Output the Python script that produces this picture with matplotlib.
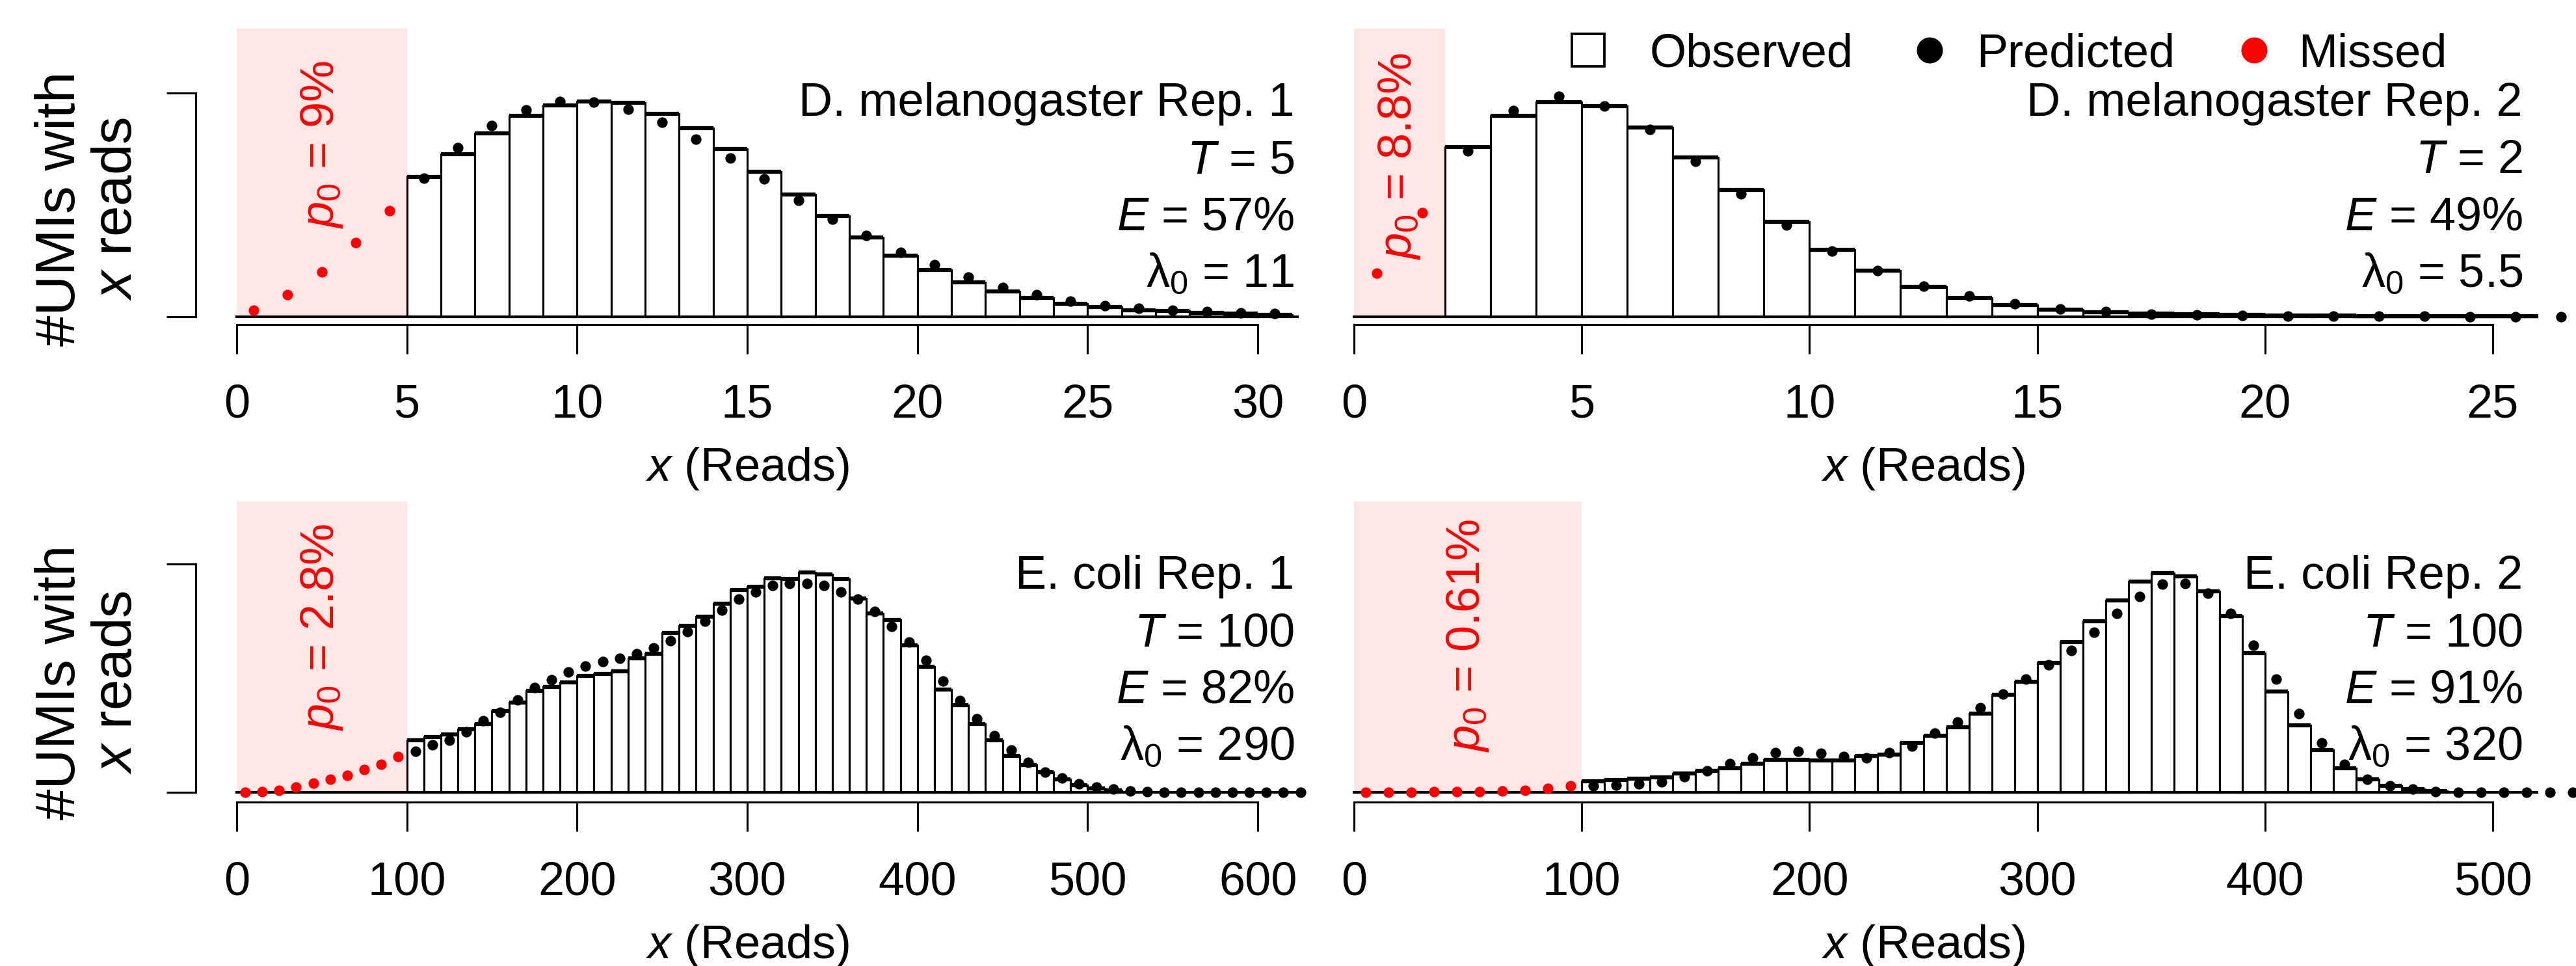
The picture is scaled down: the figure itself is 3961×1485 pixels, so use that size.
import numpy as np
import matplotlib
matplotlib.use("Agg")
import matplotlib.pyplot as plt
from matplotlib.patches import Rectangle
from matplotlib.lines import Line2D

plt.rcParams['font.family'] = ['Liberation Sans', 'DejaVu Sans']
plt.rcParams['mathtext.fontset'] = 'custom'
plt.rcParams['mathtext.rm'] = 'Liberation Sans'
plt.rcParams['mathtext.it'] = 'Liberation Sans:italic'

# --- data (heights relative to the upper y tick) ---
# D. melanogaster Rep. 1
dm1_bins = np.arange(5, 31)
dm1_obs = [0.625, 0.725, 0.819, 0.897, 0.943, 0.961, 0.955, 0.906, 0.843, 0.749,
           0.646, 0.545, 0.450, 0.354, 0.271, 0.208, 0.153, 0.112, 0.083, 0.058,
           0.042, 0.029, 0.024, 0.017, 0.013, 0.008]
dm1_pred_x = np.arange(5.5, 31)
dm1_pred = [0.618, 0.754, 0.855, 0.923, 0.962, 0.959, 0.926, 0.867, 0.792, 0.708,
            0.615, 0.520, 0.436, 0.362, 0.288, 0.231, 0.176, 0.131, 0.097, 0.068,
            0.049, 0.037, 0.029, 0.022, 0.017, 0.013]
dm1_miss_x = [0.5, 1.5, 2.5, 3.5, 4.5]
dm1_miss = [0.029, 0.097, 0.199, 0.330, 0.473]

# D. melanogaster Rep. 2
dm2_bins = np.arange(2, 26)
dm2_obs = [0.758, 0.897, 0.959, 0.942, 0.845, 0.712, 0.565, 0.424, 0.299, 0.206,
           0.134, 0.083, 0.051, 0.031, 0.019, 0.013, 0.010, 0.007, 0.005, 0.004,
           0.003, 0.002, 0.001, 0.001]
dm2_pred_x = np.arange(2.5, 27)
dm2_pred = [0.740, 0.921, 0.984, 0.942, 0.835, 0.693, 0.548, 0.409, 0.294, 0.206,
            0.136, 0.092, 0.056, 0.034, 0.021, 0.012, 0.009, 0.004, 0.002, 0.002,
            0.001, 0.001, 0.0, 0.0, 0.0]
dm2_miss_x = [0.5, 1.5]
dm2_miss = [0.194, 0.465]

# E. coli Rep. 1
ec1_bins = np.arange(100, 520, 10)
ec1_obs = [0.230, 0.244, 0.255, 0.278, 0.301, 0.356, 0.394, 0.444, 0.463, 0.481,
           0.510, 0.519, 0.532, 0.589, 0.608, 0.698, 0.729, 0.771, 0.828, 0.888,
           0.902, 0.938, 0.935, 0.964, 0.954, 0.935, 0.850, 0.783, 0.755, 0.646,
           0.552, 0.451, 0.384, 0.301, 0.230, 0.161, 0.121, 0.088, 0.057, 0.033,
           0.019, 0.010]
ec1_pred_x = np.arange(105, 630, 10)
ec1_pred = [0.180, 0.209, 0.230, 0.266, 0.313, 0.352, 0.406, 0.460, 0.494, 0.527,
            0.554, 0.573, 0.589, 0.608, 0.632, 0.665, 0.705, 0.750, 0.800, 0.846,
            0.878, 0.907, 0.916, 0.916, 0.907, 0.878, 0.846, 0.793, 0.726, 0.660,
            0.579, 0.489, 0.404, 0.323, 0.249, 0.185, 0.133, 0.090, 0.064, 0.038,
            0.024, 0.015, 0.007, 0.003, 0.002, 0.001, 0.001, 0.0, 0.0, 0.0,
            0.0, 0.0, 0.0]
ec1_miss_x = np.arange(5, 100, 10)
ec1_miss = [0.002, 0.005, 0.010, 0.024, 0.041, 0.057, 0.076, 0.100, 0.124, 0.157]

# E. coli Rep. 2
ec2_bins = np.arange(100, 480, 10)
ec2_obs = [0.050, 0.054, 0.062, 0.067, 0.083, 0.095, 0.105, 0.125, 0.143, 0.143,
           0.140, 0.140, 0.161, 0.166, 0.218, 0.248, 0.285, 0.346, 0.427, 0.484,
           0.568, 0.660, 0.750, 0.840, 0.923, 0.962, 0.947, 0.880, 0.774, 0.612,
           0.443, 0.295, 0.185, 0.105, 0.057, 0.028, 0.014, 0.006]
ec2_pred_x = np.arange(105, 540, 10)
ec2_pred = [0.028, 0.033, 0.038, 0.047, 0.069, 0.095, 0.125, 0.152, 0.176, 0.180,
            0.171, 0.158, 0.152, 0.176, 0.204, 0.259, 0.310, 0.370, 0.432, 0.498,
            0.560, 0.622, 0.703, 0.783, 0.859, 0.912, 0.916, 0.874, 0.783, 0.646,
            0.496, 0.346, 0.218, 0.123, 0.057, 0.028, 0.014, 0.005, 0.002, 0.001,
            0.0, 0.0, 0.0, 0.0]
ec2_miss_x = np.arange(5, 100, 10)
ec2_miss = [0.002, 0.002, 0.002, 0.003, 0.004, 0.005, 0.007, 0.010, 0.017, 0.030]

names = ["D. melanogaster Rep. 1", "D. melanogaster Rep. 2", "E. coli Rep. 1", "E. coli Rep. 2"]
T_vals = ["5", "2", "100", "100"]
E_vals = ["57%", "49%", "82%", "91%"]
lam_vals = ["11", "5.5", "290", "320"]
p0_vals = ["9%", "8.8%", "2.8%", "0.61%"]
cutoffs = [5, 2, 100, 100]
tick_max = [30, 25, 600, 500]
tick_step = [5, 5, 100, 100]

# --- layout (pixel boxes of the reference) ---
W, H = 3961, 1485
FS = 17.3
PX = 72 / 300  # points per pixel


def box(l, r, t, b):
    return [l / W, 1 - b / H, (r - l) / W, (b - t) / H]


cols = [(301, 1997), (2012, 3903)]
rows = [(44, 499), (771, 1232.6)]
xlims = [(-1.2, 31.2), (-1, 26), (-24, 624), (-20, 520)]
ylims = [(-0.0358, 1.2869), (-0.0358, 1.2869), (-0.0407, 1.2744), (-0.0407, 1.2744)]
text_x = [0.9959, 0.9873, 0.9959, 0.9873]
p0_y = [0.77, 0.717, 0.725, 0.687]
line_off = [32.2, 53.3, 74.2, 95.3]

panels = [
    (dm1_bins, 1, dm1_obs, dm1_pred_x, dm1_pred, dm1_miss_x, dm1_miss),
    (dm2_bins, 1, dm2_obs, dm2_pred_x, dm2_pred, dm2_miss_x, dm2_miss),
    (ec1_bins, 10, ec1_obs, ec1_pred_x, ec1_pred, ec1_miss_x, ec1_miss),
    (ec2_bins, 10, ec2_obs, ec2_pred_x, ec2_pred, ec2_miss_x, ec2_miss),
]

fig = plt.figure(figsize=(W / 300, H / 300), dpi=300)

for i, (bins, width, obs, px, pred, mx, miss) in enumerate(panels):
    c = cols[i % 2]
    r = rows[i // 2]
    ax = fig.add_axes(box(c[0], c[1], r[0], r[1]))
    ax.set_xlim(*xlims[i])
    ax.set_ylim(*ylims[i])

    # missed region
    ax.add_patch(Rectangle((0, 0), cutoffs[i], ylims[i][1], facecolor='#FFE6E6',
                           edgecolor='none', zorder=0))

    ax.bar(bins, obs, width=width, align='edge', facecolor='white',
           edgecolor='black', linewidth=0.75, zorder=2)
    ax.hlines(obs, bins, bins + width, color='black', lw=1.5, zorder=3)
    ax.plot([0, xlims[i][1]], [0, 0], color='black', lw=1.0, zorder=3)

    ax.plot(px, pred, 'o', color='black', ms=3.9, mew=0, clip_on=False, zorder=4)
    ax.plot(mx, miss, 'o', color='red', ms=3.9, mew=0, clip_on=False, zorder=4)

    # axes styling (R-like)
    ax.spines['top'].set_visible(False)
    ax.spines['right'].set_visible(False)
    ax.spines['bottom'].set_bounds(0, tick_max[i])
    ax.spines['bottom'].set_linewidth(0.75)
    ax.set_xticks(np.arange(0, tick_max[i] + 1, tick_step[i]))
    ax.tick_params(axis='x', length=10.8, width=0.75, pad=11, labelsize=FS)
    if i % 2 == 0:
        ax.spines['left'].set_bounds(0, 1)
        ax.spines['left'].set_linewidth(0.75)
        ax.set_yticks([0, 1])
        ax.set_yticklabels([])
        ax.tick_params(axis='y', length=10.8, width=0.75)
        ytr = ax.get_yaxis_transform()
        for lab, bx in [("#UMIs with", 115), ("$x$ reads", 202)]:
            ax.text((bx - c[0]) / (c[1] - c[0]), 0.483, lab, transform=ytr,
                    rotation=90, rotation_mode='anchor', ha='center', va='baseline',
                    fontsize=20.5)
    else:
        ax.spines['left'].set_visible(False)
        ax.set_yticks([])

    ax.annotate("$x$ (Reads)", xy=(0.5, 0), xycoords='axes fraction',
                xytext=(0, -222 * PX), textcoords='offset points',
                ha='center', va='center', fontsize=FS)

    lines = [names[i], "$T$ = " + T_vals[i], "$E$ = " + E_vals[i],
             "\u03bb$_0$ = " + lam_vals[i]]
    for k, s in enumerate(lines):
        ax.annotate(s, xy=(text_x[i], 1), xycoords='axes fraction',
                    xytext=(0, -line_off[k]), textcoords='offset points',
                    ha='right', va='baseline', fontsize=FS)

    ax.text(cutoffs[i] / 2, p0_y[i], "$p_0$ = " + p0_vals[i], rotation=90,
            color='red', ha='center', va='center', fontsize=FS, zorder=5)

# legend across the top right
ly = 1 - 77 / H
fig.add_artist(Line2D([2441.5 / W], [ly], marker='s', ms=12, mfc='white', mec='black',
                      mew=0.9, ls='none', transform=fig.transFigure))
fig.text(2537 / W, 1 - 102.7 / H, "Observed", ha='left', va='baseline', fontsize=FS)
fig.add_artist(Line2D([2967 / W], [ly], marker='o', ms=9.6, mfc='black', mec='none',
                      ls='none', transform=fig.transFigure))
fig.text(3039 / W, 1 - 102.7 / H, "Predicted", ha='left', va='baseline', fontsize=FS)
fig.add_artist(Line2D([3466 / W], [ly], marker='o', ms=9.6, mfc='red', mec='none',
                      ls='none', transform=fig.transFigure))
fig.text(3534 / W, 1 - 102.7 / H, "Missed", ha='left', va='baseline', fontsize=FS)

fig.savefig("out.png", dpi=300)
